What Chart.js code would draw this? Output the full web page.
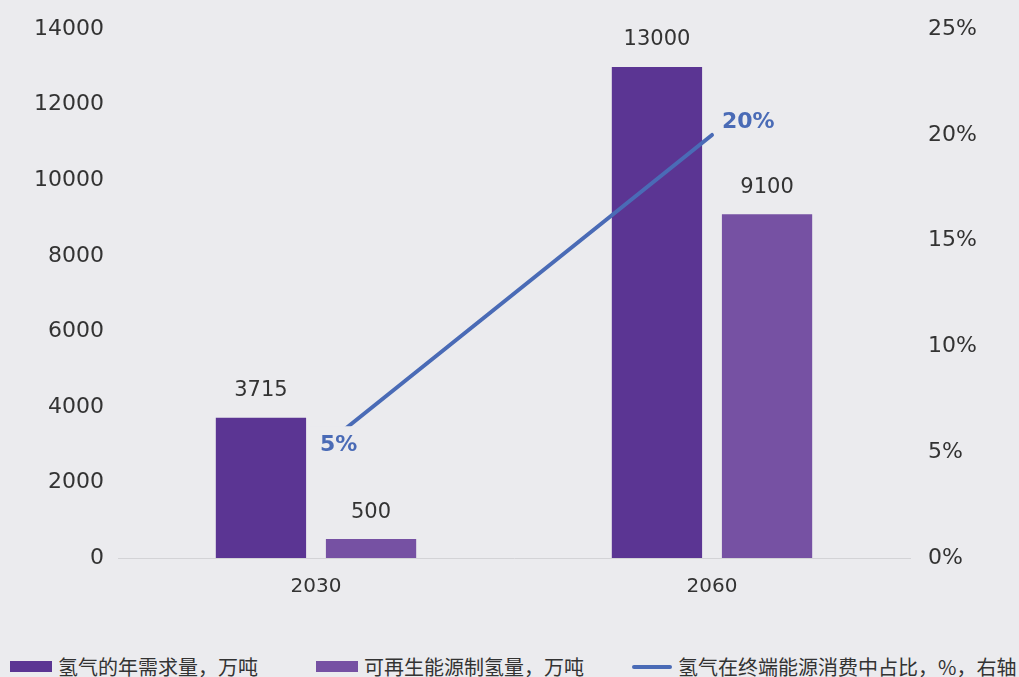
<!DOCTYPE html>
<html>
<head>
<meta charset="utf-8">
<script src="https://cdn.jsdelivr.net/npm/chart.js@4"></script>
<style>
  html, body { margin: 0; padding: 0; background: #ebebee; }
  #wrap { position: relative; width: 1019px; height: 677px; overflow: hidden; }
  #box { position: absolute; left: 0; top: -2px; width: 1019px; height: 612px; }
  #legend {
    position: absolute; left: 10px; top: 652px; display: flex; align-items: center;
    font-family: "Noto Sans CJK SC", sans-serif; font-size: 20px; color: #333; white-space: nowrap;
  }
  .item { display: flex; align-items: center; }
  .sw { width: 42px; height: 11px; margin-right: 6px; }
  .ln { width: 40px; height: 4px; border-radius: 2px; margin-right: 6px; }
</style>
</head>
<body>
<div id="wrap">
  <div id="box"><canvas id="chart"></canvas></div>
  <div id="legend"></div>
</div>
<script>
// 数据
const years = ['2030', '2060'];
const demand = [3715, 13000];      // 氢气的年需求量，万吨
const renewable = [500, 9100];     // 可再生能源制氢量，万吨
const share = [5, 20];             // 氢气在终端能源消费中占比，%
const seriesNames = ['氢气的年需求量，万吨', '可再生能源制氢量，万吨', '氢气在终端能源消费中占比，%，右轴'];
const colors = ['#5b3593', '#7651a3', '#4a6bb6'];
const bg = '#ebebee';

const tickFont = { family: 'DejaVu Sans', size: 22 };

// 数值标签（百分比标签带底色，会盖住折线起点一段）
const valueLabels = {
    id: 'valueLabels',
    afterDatasetsDraw(chart) {
        const ctx = chart.ctx;
        ctx.save();
        chart.data.datasets.forEach((ds, i) => {
            const meta = chart.getDatasetMeta(i);
            meta.data.forEach((el, j) => {
                if (ds.type === 'line') {
                    const txt = ds.data[j] + '%';
                    ctx.font = 'bold 22px "DejaVu Sans"';
                    ctx.textAlign = 'left';
                    ctx.textBaseline = 'middle';
                    const off = j === 0 ? [4, -7] : [10, -13];
                    const x = el.x + off[0], y = el.y + off[1];
                    const w = ctx.measureText(txt).width;
                    if (j === 0) {
                        ctx.fillStyle = bg;
                        ctx.fillRect(x - 10, y - 19, w + 14, 40);
                    }
                    ctx.fillStyle = colors[2];
                    ctx.fillText(txt, x, y);
                } else {
                    ctx.font = '21px "DejaVu Sans"';
                    ctx.fillStyle = '#333';
                    ctx.textAlign = 'center';
                    ctx.textBaseline = 'middle';
                    ctx.fillText(ds.data[j], el.x, el.y - 27);
                }
            });
        });
        ctx.restore();
    }
};

new Chart(document.getElementById('chart'), {
    data: {
        labels: years,
        datasets: [
            {
                type: 'line', label: seriesNames[2], data: share, yAxisID: 'y1',
                borderColor: colors[2], backgroundColor: colors[2], borderWidth: 4,
                borderCapStyle: 'round', pointRadius: 0, order: 0
            },
            {
                type: 'bar', label: seriesNames[0], data: demand, yAxisID: 'y',
                backgroundColor: colors[0], order: 1,
                categoryPercentage: 0.556, barPercentage: 0.82
            },
            {
                type: 'bar', label: seriesNames[1], data: renewable, yAxisID: 'y',
                backgroundColor: colors[1], order: 1,
                categoryPercentage: 0.556, barPercentage: 0.82
            }
        ]
    },
    options: {
        responsive: true,
        maintainAspectRatio: false,
        animation: false,
        layout: { padding: { top: 12, left: 0, right: 0, bottom: 0 } },
        plugins: { legend: { display: false }, tooltip: { enabled: false } },
        scales: {
            x: {
                offset: true,
                grid: { display: false, drawTicks: false },
                border: { display: true, color: '#d3d3d6', width: 1 },
                ticks: { font: { family: 'DejaVu Sans', size: 20 }, color: '#333', padding: 17 },
                afterFit(s) { s.height = 52; }
            },
            y: {
                position: 'left', min: 0, max: 14000,
                grid: { display: false, drawTicks: false },
                border: { display: false },
                ticks: { stepSize: 2000, font: tickFont, color: '#333', padding: 14, callback: v => String(v) },
                afterFit(s) { s.width = 118; }
            },
            y1: {
                position: 'right', min: 0, max: 25,
                grid: { display: false, drawTicks: false },
                border: { display: false },
                ticks: { stepSize: 5, font: tickFont, color: '#333', padding: 18, callback: v => v + '%' },
                afterFit(s) { s.width = 109; }
            }
        }
    },
    plugins: [valueLabels]
});

// 图例
const legend = document.getElementById('legend');
const gaps = [58, 48, 0];
seriesNames.forEach((name, i) => {
    const item = document.createElement('div');
    item.className = 'item';
    item.style.marginRight = gaps[i] + 'px';
    const sw = document.createElement('span');
    sw.className = i === 2 ? 'ln' : 'sw';
    sw.style.background = colors[i];
    const t = document.createElement('span');
    t.textContent = name;
    item.appendChild(sw);
    item.appendChild(t);
    legend.appendChild(item);
});
</script>
</body>
</html>
